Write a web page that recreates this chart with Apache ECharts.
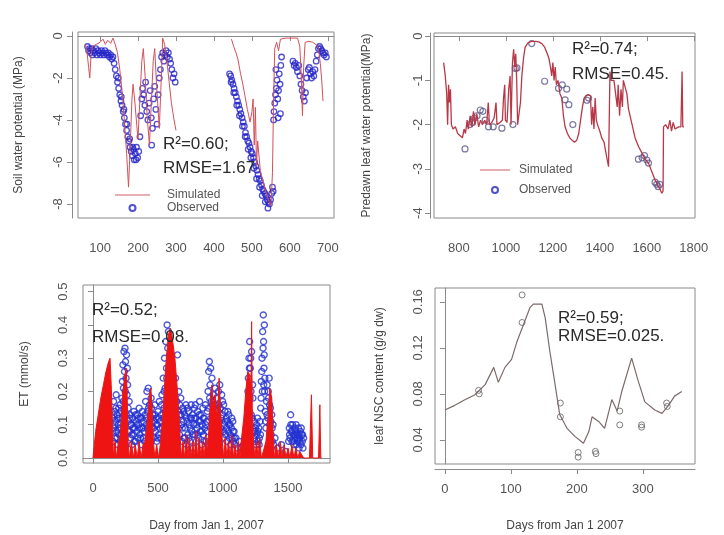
<!DOCTYPE html>
<html>
<head>
<meta charset="utf-8">
<script src="https://cdn.jsdelivr.net/npm/echarts@6/dist/echarts.min.js"></script>
<style>
  html, body { margin: 0; padding: 0; background: #fff; }
  #chart { width: 724px; height: 535px; }
</style>
</head>
<body>
<div id="chart"></div>
<script>
// panel 1: soil water potential (MPa), day
var soilSimA = [[62,-0.4],[66,-0.8],[70,-1.5],[73,-2.0],[76,-1.0],[80,-0.5],[90,-0.4],[100,-0.3],[108,-0.15],[114,-0.4],[120,-0.2],[128,-0.35],[134,-0.1],[140,-0.4],[146,-0.8],[152,-1.6],[158,-2.6],[164,-4.0],[170,-5.6],[175,-7.2],[180,-5.0],[184,-3.0],[187,-2.3],[192,-3.2],[197,-4.3],[200,-4.9],[205,-3.0],[210,-1.2],[214,-0.6],[219,-2.0],[224,-3.8],[230,-5.2],[235,-3.2],[240,-1.2],[244,-0.6],[249,-2.4],[256,-4.4],[260,-2.6],[265,-0.1],[270,-0.4],[276,-1.2],[282,-2.2],[288,-3.2],[294,-3.9],[300,-4.5]]
var soilSimB = [[446,-0.15],[452,-0.5],[458,-0.8],[463,-1.1],[470,-1.8],[476,-2.3],[481,-2.8],[488,-3.5],[495,-4.1],[500,-3.6],[503,-3.0],[506,-5.2],[509,-3.4],[512,-6.2],[515,-5.0],[522,-6.4],[530,-7.0],[538,-7.5],[545,-7.9],[550,-8.1],[554,-6.5],[557,-3.0],[560,-0.6],[565,-0.3],[570,-0.7],[575,-0.15],[590,-0.1],[605,-0.1],[620,-0.1],[626,-0.5],[630,-2.0],[633,-3.8],[636,-1.5],[640,-0.3],[650,-0.25],[660,-0.3],[668,-0.4],[675,-0.6],[680,-1.3],[684,-2.2],[687,-3.1]]
var soilObs = [[67,-0.5],[70,-0.7],[72,-0.6],[75,-0.8],[78,-0.6],[80,-0.9],[83,-0.7],[86,-0.8],[89,-0.6],[92,-0.9],[95,-0.7],[98,-0.8],[101,-0.9],[104,-0.7],[107,-0.8],[110,-0.9],[113,-0.7],[116,-0.8],[119,-0.9],[122,-0.8],[125,-1.0],[128,-0.9],[131,-1.1],[134,-1.0],[137,-1.3],[140,-1.6],[143,-1.9],[146,-2.2],[149,-2.5],[152,-2.8],[155,-3.1],[158,-3.3],[161,-3.6],[164,-3.9],[167,-4.2],[170,-4.5],[173,-4.8],[176,-5.0],[179,-5.3],[182,-5.5],[185,-5.7],[188,-5.4],[190,-5.9],[193,-5.6],[196,-5.3],[199,-5.8],[202,-5.5],[205,-4.8],[207,-3.8],[210,-3.0],[212,-2.5],[215,-2.8],[218,-3.3],[220,-2.2],[223,-3.6],[226,-4.0],[229,-3.2],[232,-2.6],[235,-3.9],[236,-5.2],[238,-4.4],[241,-3.0],[244,-2.4],[247,-3.5],[250,-4.2],[253,-2.8],[256,-2.0],[259,-1.6],[262,-1.0],[265,-0.8],[268,-1.2],[271,-0.9],[274,-0.7],[277,-1.0],[280,-0.8],[283,-1.1],[286,-1.3],[289,-1.6],[292,-2.0],[295,-1.8],[298,-2.2],
  [441,-1.8],[444,-1.9],[447,-2.1],[450,-2.3],[453,-2.5],[456,-2.7],[459,-2.9],[462,-3.1],[465,-3.3],[468,-3.5],[471,-3.7],[474,-3.9],[477,-4.1],[480,-4.3],[483,-4.6],[486,-4.8],[489,-5.0],[492,-5.1],[495,-5.3],[498,-5.5],[501,-5.6],[504,-5.8],[507,-6.0],[510,-6.2],[513,-6.4],[516,-6.6],[519,-6.8],[522,-6.9],[525,-7.1],[528,-7.3],[531,-7.4],[534,-7.5],[537,-7.6],[540,-7.8],[543,-7.9],[546,-8.0],[549,-7.8],[552,-7.5],[554,-7.2],[556,-7.4],[557,-4.0],[558,-3.6],[560,-3.2],[562,-2.8],[563,-1.6],[564,-2.5],[566,-2.1],[568,-3.0],[569,-3.9],[570,-2.6],[572,-1.8],[574,-2.3],[575,-3.7],[576,-1.4],[578,-1.0],[608,-1.2],[611,-1.4],[614,-1.3],[617,-1.5],[620,-1.7],[623,-1.4],[626,-1.9],[629,-2.3],[632,-2.6],[635,-2.9],[638,-3.1],[641,-2.7],[644,-2.0],[648,-1.6],[651,-1.5],[654,-1.8],[657,-2.0],[660,-1.7],[663,-1.9],[666,-1.6],[669,-1.2],[672,-0.9],[675,-0.6],[678,-0.5],[681,-0.6],[684,-0.7],[687,-0.8],[690,-0.9],[693,-0.8],[696,-1.0],
  [445,-2.2],[452,-2.7],[460,-3.3],[467,-3.8],[475,-4.3],[482,-4.8],[490,-5.4],[497,-5.8],[505,-6.3],[512,-6.8],[520,-7.2],[527,-7.6],[535,-7.9],[542,-8.2],[148,-2.0],[156,-2.9],[163,-3.5],[171,-4.2],[178,-4.9],[186,-5.3],[195,-5.9]]

// panel 2: predawn leaf water potential (MPa), day
var leafSim = [[735,-0.6],[742,-0.9],[748,-1.3],[752,-2.0],[756,-1.1],[760,-1.5],[764,-1.2],[768,-2.0],[775,-2.1],[785,-2.05],[795,-2.2],[805,-2.25],[815,-2.3],[822,-2.1],[828,-2.2],[835,-1.9],[840,-2.1],[848,-1.8],[855,-2.05],[862,-1.7],[868,-2.0],[876,-1.75],[884,-2.05],[892,-1.9],[900,-2.0],[910,-1.9],[918,-2.0],[925,-1.5],[930,-2.0],[940,-1.95],[950,-1.85],[958,-1.5],[962,-2.0],[975,-1.95],[985,-1.9],[990,-1.4],[995,-1.1],[998,-1.9],[1005,-1.95],[1012,-1.2],[1018,-0.9],[1022,-2.0],[1028,-0.6],[1033,-0.3],[1038,-0.7],[1042,-0.4],[1046,-1.0],[1050,-2.0],[1056,-2.0],[1062,-1.5],[1068,-0.9],[1075,-0.5],[1082,-0.25],[1095,-0.15],[1110,-0.12],[1125,-0.12],[1140,-0.13],[1153,-0.17],[1165,-0.25],[1175,-0.38],[1183,-0.5],[1190,-0.7],[1195,-0.9],[1200,-0.6],[1205,-1.0],[1210,-0.7],[1215,-1.1],[1222,-1.0],[1230,-1.3],[1238,-1.4],[1245,-1.8],[1252,-2.05],[1262,-2.2],[1272,-2.3],[1281,-2.35],[1292,-2.4],[1302,-2.35],[1310,-2.2],[1318,-1.9],[1326,-1.6],[1333,-1.4],[1340,-1.35],[1350,-1.32],[1360,-1.35],[1365,-2.0],[1370,-1.6],[1375,-2.1],[1380,-1.4],[1385,-1.9],[1390,-2.0],[1400,-2.15],[1408,-2.3],[1418,-2.4],[1428,-2.7],[1437,-2.95],[1443,-0.8],[1448,-1.0],[1460,-1.0],[1468,-1.0],[1474,-1.6],[1478,-1.1],[1484,-1.8],[1490,-1.2],[1496,-1.6],[1500,-1.0],[1508,-1.0],[1515,-1.3],[1522,-1.65],[1535,-1.95],[1550,-2.3],[1565,-2.5],[1580,-2.65],[1595,-2.8],[1607,-2.87],[1620,-3.05],[1635,-3.25],[1650,-3.4],[1664,-3.55],[1669,-3.5],[1671,-2.05],[1680,-2.0],[1690,-2.1],[1698,-1.9],[1705,-2.15],[1712,-1.95],[1720,-2.1],[1735,-2.05],[1745,-2.05],[1750,-0.8],[1753,-2.05],[1758,-2.05]]
var leafObs = [[826,-2.55],[847,-2.0],[858,-1.95],[866,-1.85],[877,-1.8],[891,-1.67],[902,-1.7],[912,-1.9],[926,-2.05],[946,-2.05],[983,-2.08],[1030,-2.0],[1040,-0.73],[1047,-0.72],[1110,-0.17],[1165,-1.02],[1224,-1.18],[1240,-1.1],[1252,-1.44],[1259,-1.2],[1268,-1.55],[1285,-2.0],[1345,-1.45],[1352,-1.4],[1564,-2.78],[1580,-2.75],[1590,-2.7],[1600,-2.8],[1607,-2.87],[1635,-3.3],[1642,-3.35],[1648,-3.4],[1655,-3.35]]

// panel 3: ET, day from Jan 1 2007
var etSim = [[0,0.0],[10,0.04],[20,0.08],[40,0.13],[60,0.18],[80,0.22],[100,0.26],[120,0.29],[131,0.30],[140,0.22],[150,0.10],[158,0.0],[170,0.05],[180,0.0],[192,0.04],[205,0.06],[215,0.10],[230,0.20],[245,0.25],[255,0.27],[262,0.20],[270,0.05],[280,0.0],[295,0.05],[310,0.0],[325,0.04],[340,0.0],[355,0.05],[370,0.0],[385,0.04],[400,0.05],[420,0.12],[435,0.19],[445,0.21],[455,0.15],[465,0.05],[475,0.0],[490,0.04],[505,0.0],[520,0.05],[540,0.15],[560,0.28],[580,0.37],[595,0.39],[610,0.36],[630,0.30],[650,0.20],[665,0.10],[680,0.0],[692,0.05],[705,0.0],[718,0.07],[730,0.0],[742,0.06],[755,0.0],[768,0.05],[780,0.0],[792,0.08],[805,0.0],[818,0.06],[830,0.0],[842,0.05],[855,0.0],[868,0.07],[880,0.02],[890,0.08],[905,0.18],[915,0.22],[925,0.15],[940,0.19],[955,0.10],[970,0.24],[980,0.15],[995,0.05],[1005,0.0],[1018,0.06],[1030,0.0],[1042,0.05],[1055,0.0],[1068,0.07],[1080,0.0],[1092,0.04],[1105,0.0],[1118,0.05],[1130,0.0],[1140,0.05],[1160,0.12],[1175,0.20],[1190,0.26],[1205,0.25],[1215,0.20],[1220,0.41],[1225,0.15],[1235,0.05],[1245,0.0],[1258,0.05],[1270,0.0],[1282,0.06],[1295,0.0],[1310,0.02],[1330,0.05],[1345,0.12],[1360,0.21],[1375,0.18],[1385,0.08],[1395,0.0],[1410,0.04],[1425,0.0],[1440,0.05],[1455,0.0],[1470,0.04],[1485,0.0],[1500,0.03],[1515,0.0],[1530,0.04],[1545,0.0],[1560,0.03],[1575,0.0],[1590,0.02],[1620,0.0],[1665,0.0],[1680,0.19],[1690,0.0],[1735,0.0],[1745,0.16],[1752,0.0],[1760,0.0]]
var etObs = [[150,0.12],[155,0.05],[158,0.17],[162,0.09],[166,0.14],[170,0.06],[174,0.11],[178,0.19],[182,0.08],[186,0.13],[190,0.04],[194,0.10],[198,0.15],[202,0.07],[206,0.12],[210,0.05],[214,0.09],[218,0.14],[222,0.18],[226,0.23],[230,0.28],[234,0.21],[238,0.32],[242,0.26],[246,0.33],[250,0.29],[254,0.24],[258,0.31],[262,0.19],[266,0.22],[270,0.15],[274,0.11],[278,0.17],[282,0.08],[286,0.13],[290,0.06],[295,0.10],[300,0.04],[305,0.12],[310,0.07],[315,0.14],[320,0.09],[325,0.05],[330,0.11],[335,0.08],[340,0.13],[345,0.06],[350,0.10],[355,0.15],[360,0.07],[365,0.12],[370,0.04],[375,0.09],[380,0.14],[385,0.06],[390,0.11],[395,0.08],[400,0.13],[405,0.17],[410,0.10],[415,0.20],[420,0.14],[425,0.21],[430,0.08],[435,0.16],[440,0.12],[445,0.05],[450,0.15],[455,0.09],[460,0.13],[465,0.06],[470,0.11],[475,0.16],[480,0.08],[485,0.12],[490,0.05],[495,0.10],[500,0.14],[505,0.07],[510,0.17],[515,0.11],[520,0.06],[525,0.13],[530,0.19],[535,0.09],[540,0.24],[545,0.15],[550,0.30],[555,0.21],[560,0.35],[565,0.27],[570,0.40],[575,0.33],[580,0.38],[585,0.25],[590,0.31],[595,0.18],[600,0.28],[605,0.12],[610,0.22],[615,0.16],[620,0.08],[625,0.19],[630,0.12],[635,0.24],[640,0.09],[645,0.17],[650,0.31],[655,0.14],[660,0.20],[665,0.07],[670,0.13],[675,0.18],[680,0.10],[685,0.05],[690,0.15],[695,0.11],[700,0.06],[705,0.13],[710,0.09],[715,0.16],[720,0.04],[725,0.11],[730,0.07],[735,0.14],[740,0.10],[745,0.05],[750,0.12],[755,0.16],[760,0.08],[765,0.13],[770,0.03],[775,0.10],[780,0.15],[785,0.07],[790,0.12],[795,0.05],[800,0.09],[805,0.14],[810,0.06],[815,0.11],[820,0.17],[825,0.08],[830,0.13],[835,0.04],[840,0.10],[845,0.15],[850,0.07],[855,0.12],[860,0.09],[865,0.16],[870,0.05],[875,0.11],[880,0.14],[885,0.20],[890,0.26],[895,0.29],[900,0.22],[905,0.27],[910,0.17],[915,0.24],[920,0.13],[925,0.19],[930,0.10],[935,0.16],[940,0.21],[945,0.12],[950,0.18],[955,0.08],[960,0.14],[965,0.20],[970,0.11],[975,0.22],[980,0.15],[985,0.09],[990,0.19],[995,0.13],[1000,0.06],[1005,0.16],[1010,0.10],[1015,0.14],[1020,0.07],[1025,0.12],[1030,0.05],[1035,0.11],[1040,0.08],[1045,0.13],[1050,0.06],[1055,0.10],[1060,0.04],[1065,0.09],[1070,0.06],[1075,0.11],[1080,0.05],[1085,0.08],[1090,0.04],[1100,0.06],[1110,0.03],[1125,0.05],[1140,0.03],[1160,0.04],[1185,0.08],[1190,0.15],[1195,0.24],[1200,0.30],[1205,0.35],[1210,0.27],[1215,0.20],[1220,0.32],[1225,0.12],[1230,0.18],[1235,0.08],[1240,0.11],[1245,0.05],[1250,0.09],[1255,0.04],[1260,0.07],[1265,0.12],[1270,0.05],[1275,0.09],[1280,0.06],[1285,0.11],[1290,0.15],[1295,0.23],[1300,0.30],[1305,0.38],[1310,0.43],[1312,0.35],[1315,0.27],[1318,0.40],[1320,0.20],[1325,0.14],[1330,0.09],[1335,0.17],[1340,0.22],[1345,0.12],[1350,0.18],[1355,0.24],[1360,0.10],[1365,0.15],[1370,0.07],[1375,0.13],[1380,0.05],[1385,0.10],[1390,0.04],[1400,0.06],[1420,0.03],[1450,0.04],[1480,0.02],[1505,0.05],[1510,0.09],[1515,0.06],[1520,0.13],[1525,0.08],[1530,0.05],[1535,0.10],[1540,0.07],[1545,0.04],[1550,0.09],[1555,0.06],[1560,0.08],[1565,0.04],[1570,0.07],[1575,0.05],[1580,0.09],[1585,0.03],[1590,0.06],[1595,0.08],[1600,0.04],[1605,0.07],[1610,0.05],[1615,0.03],[1620,0.06],
  [152,0.08],[160,0.13],[168,0.10],[176,0.15],[184,0.06],[192,0.12],[200,0.09],[208,0.16],[216,0.07],[224,0.12],[232,0.17],[240,0.14],[248,0.20],[256,0.13],[264,0.27],[272,0.08],[280,0.12],[288,0.10],[297,0.07],[307,0.09],[317,0.05],[327,0.13],[337,0.10],[347,0.12],[357,0.09],[367,0.06],[377,0.12],[387,0.09],[397,0.05],[407,0.12],[417,0.09],[427,0.15],[437,0.10],[447,0.18],[457,0.12],[467,0.09],[477,0.13],[487,0.10],[497,0.06],[507,0.12],[517,0.09],[527,0.16],[537,0.12],[547,0.20],[557,0.14],[567,0.24],[577,0.18],[587,0.14],[597,0.22],[607,0.18],[617,0.13],[627,0.15],[637,0.07],[647,0.12],[657,0.09],[667,0.16],[677,0.13],[687,0.09],[697,0.14],[707,0.06],[717,0.12],[727,0.15],[737,0.06],[747,0.09],[757,0.12],[767,0.07],[777,0.12],[787,0.16],[797,0.10],[807,0.07],[817,0.13],[827,0.11],[837,0.08],[847,0.12],[857,0.05],[867,0.10],[877,0.08],[887,0.15],[897,0.18],[907,0.12],[917,0.16],[927,0.09],[937,0.13],[947,0.15],[957,0.11],[967,0.16],[977,0.08],[987,0.12],[997,0.17],[1007,0.08],[1017,0.11],[1027,0.09],[1037,0.14],[1047,0.10],[1057,0.07],[1067,0.12],[1077,0.08],[1087,0.06],[1192,0.20],[1198,0.11],[1203,0.27],[1208,0.18],[1213,0.30],[1218,0.13],[1228,0.22],[1238,0.06],[1248,0.08],[1258,0.10],[1268,0.08],[1278,0.04],[1288,0.07],[1293,0.18],[1298,0.26],[1303,0.20],[1308,0.33],[1313,0.22],[1317,0.31],[1322,0.24],[1328,0.11],[1338,0.13],[1348,0.20],[1358,0.16],[1368,0.11],[1378,0.09],[1512,0.07],[1522,0.10],[1532,0.08],[1542,0.05],[1552,0.07],[1562,0.10],[1572,0.06],[1582,0.07],[1592,0.05],[1602,0.09],[1612,0.07]]

// panel 4: leaf NSC content (g/g dw), days from Jan 1 2007
var nscSim = [[0,0.066],[15,0.070],[31,0.075],[45,0.079],[61,0.088],[74,0.103],[81,0.090],[91,0.103],[101,0.110],[109,0.125],[119,0.140],[129,0.155],[134,0.158],[147,0.158],[152,0.146],[159,0.117],[167,0.088],[174,0.062],[185,0.050],[197,0.043],[210,0.037],[218,0.047],[223,0.060],[233,0.056],[242,0.050],[253,0.075],[261,0.065],[268,0.082],[283,0.111],[293,0.091],[303,0.073],[318,0.066],[329,0.063],[339,0.070],[348,0.078],[359,0.082]]
var nscObs = [[117,0.166],[117,0.142],[51,0.083],[52,0.080],[175,0.072],[175,0.060],[202,0.029],[202,0.025],[228,0.030],[229,0.028],[265,0.065],[265,0.053],[298,0.053],[298,0.051],[336,0.072],[337,0.069]]

// tick labels
var p1XTicks = [100, 200, 300, 400, 500, 600, 700]
var p1YTicks = [0, -2, -4, -6, -8]
var p2XTicks = [800, 1000, 1200, 1400, 1600, 1800]
var p2YTicks = [0, -1, -2, -3, -4]
var p3XTicks = [0, 500, 1000, 1500]
var p3YTicks = [0, 0.1, 0.2, 0.3, 0.4, 0.5]
var p4XTicks = [0, 100, 200, 300]
var p4YTicks = [0.04, 0.08, 0.12, 0.16]

var FONT = 'Liberation Sans, Arial, sans-serif'
var AXIS_GREY = '#8a8a8a'
var LINE_ICON = 'path://M0,0H35V1.2H0Z'

function xAxisOf (grid, min, max, ticks, offset, name, gap) {
  return {
    type: 'value', gridIndex: grid, min: min, max: max, offset: offset,
    name: name || '', nameLocation: 'middle', nameGap: gap || 40,
    nameTextStyle: { color: '#444', fontSize: 12, fontFamily: FONT },
    axisLine: { show: true, lineStyle: { color: AXIS_GREY } },
    axisTick: { show: true, length: 5, customValues: ticks, lineStyle: { color: AXIS_GREY } },
    axisLabel: {
      customValues: ticks, color: '#555', fontSize: 13, margin: 14, fontFamily: FONT,
      formatter: function (v) { return String(v) }
    },
    splitLine: { show: false }
  }
}

function yAxisOf (grid, min, max, ticks, offset, name, gap, digits, margin) {
  return {
    type: 'value', gridIndex: grid, min: min, max: max, offset: offset,
    name: name, nameLocation: 'middle', nameGap: gap,
    nameTextStyle: { color: '#444', fontSize: 12, fontFamily: FONT },
    axisLine: { show: true, lineStyle: { color: AXIS_GREY } },
    axisTick: { show: true, length: 5, customValues: ticks, lineStyle: { color: AXIS_GREY } },
    axisLabel: {
      customValues: ticks, color: '#555', fontSize: 13, margin: margin, rotate: 90, fontFamily: FONT,
      formatter: function (v) { return digits ? v.toFixed(digits) : String(v) }
    },
    splitLine: { show: false }
  }
}

function note (left, top, text) {
  return { type: 'text', left: left, top: top, z: 100,
    style: { text: text, fill: '#2a2a2a', font: '17px ' + FONT } }
}

var gridBox = { show: true, borderColor: '#8a8a8a', borderWidth: 1, backgroundColor: 'transparent' }

var chart = echarts.init(document.getElementById('chart'))

chart.setOption({
  animation: false,
  backgroundColor: '#fff',
  grid: [
    Object.assign({ left: 78, top: 32, width: 256, height: 186 }, gridBox),
    Object.assign({ left: 434, top: 33, width: 261, height: 185 }, gridBox),
    Object.assign({ left: 83, top: 285, width: 247, height: 178 }, gridBox),
    Object.assign({ left: 435, top: 288, width: 260, height: 176 }, gridBox)
  ],
  xAxis: [
    xAxisOf(0, 42, 716, p1XTicks, 10),
    xAxisOf(1, 694, 1805, p2XTicks, 10),
    xAxisOf(2, -77, 1823, p3XTicks, 5, 'Day from Jan 1, 2007', 52),
    xAxisOf(3, -15, 379, p4XTicks, 5, 'Days from Jan 1 2007', 51)
  ],
  yAxis: [
    yAxisOf(0, -8.67, 0.19, p1YTicks, 6, 'Soil water potential (MPa)', 47, 0, 7),
    yAxisOf(1, -4.11, 0.07, p2YTicks, 4, 'Predawn leaf water potential(MPa)', 57, 0, 5),
    yAxisOf(2, -0.015, 0.52, p3YTicks, 2, 'ET (mmol/s)', 50, 1, 11),
    yAxisOf(3, 0.019, 0.172, p4YTicks, 1, 'leaf NSC content (g/g dw)', 48, 2, 9)
  ],
  legend: [
    {
      orient: 'vertical', left: 110, top: 184, itemGap: 1, itemWidth: 35, itemHeight: 6,
      selectedMode: false,
      data: [{ name: 'Simulated', icon: LINE_ICON }, { name: 'Observed', icon: 'circle' }],
      textStyle: { color: '#555', fontSize: 12, fontFamily: FONT, padding: [0, 0, 0, 12] }
    },
    {
      orient: 'vertical', left: 475, top: 159, itemGap: 8, itemWidth: 30, itemHeight: 6,
      selectedMode: false,
      data: [{ name: 'Simulated', icon: LINE_ICON }, { name: 'Observed', icon: 'circle' }],
      textStyle: { color: '#555', fontSize: 12, fontFamily: FONT, padding: [0, 0, 0, 4] }
    }
  ],
  graphic: [
    note(163, 136, 'R²=0.60;'),
    note(163, 160, 'RMSE=1.67'),
    note(572, 41, 'R²=0.74;'),
    note(572, 66, 'RMSE=0.45.'),
    note(92, 302, 'R²=0.52;'),
    note(92, 329, 'RMSE=0.08.'),
    note(558, 310, 'R²=0.59;'),
    note(558, 328, 'RMSE=0.025.')
  ],
  series: [
    {
      name: 'Observed', type: 'scatter', xAxisIndex: 0, yAxisIndex: 0, data: soilObs,
      symbol: 'circle', symbolSize: 5.5,
      itemStyle: { color: 'transparent', borderColor: '#2424c8', borderWidth: 1.3 }
    },
    {
      name: 'Simulated', type: 'line', xAxisIndex: 0, yAxisIndex: 0, data: soilSimA,
      symbol: 'none', itemStyle: { color: '#d06068' }, lineStyle: { color: '#d4505a', width: 1 }
    },
    {
      name: 'Simulated', type: 'line', xAxisIndex: 0, yAxisIndex: 0, data: soilSimB,
      symbol: 'none', itemStyle: { color: '#d06068' }, lineStyle: { color: '#d4505a', width: 1 }
    },
    {
      name: 'Simulated', type: 'line', xAxisIndex: 1, yAxisIndex: 1, data: leafSim,
      symbol: 'none', itemStyle: { color: '#c04050' }, lineStyle: { color: '#b83848', width: 1.3 }
    },
    {
      name: 'Observed', type: 'scatter', xAxisIndex: 1, yAxisIndex: 1, data: leafObs,
      symbol: 'circle', symbolSize: 6,
      itemStyle: { color: 'transparent', borderColor: '#5a5a8c', borderWidth: 1.2 }
    },
    {
      name: 'ET observed', type: 'scatter', xAxisIndex: 2, yAxisIndex: 2, data: etObs,
      symbol: 'circle', symbolSize: 6,
      itemStyle: { color: 'transparent', borderColor: '#2030d0', borderWidth: 1.4 }
    },
    {
      name: 'ET simulated', type: 'line', xAxisIndex: 2, yAxisIndex: 2, data: etSim, z: 3,
      symbol: 'none', lineStyle: { color: '#ee1414', width: 1 },
      areaStyle: { color: '#ee1414', opacity: 1 }
    },
    {
      name: 'NSC simulated', type: 'line', xAxisIndex: 3, yAxisIndex: 3, data: nscSim,
      symbol: 'none', lineStyle: { color: '#7d6a6a', width: 1.2 }
    },
    {
      name: 'NSC observed', type: 'scatter', xAxisIndex: 3, yAxisIndex: 3, data: nscObs,
      symbol: 'circle', symbolSize: 6,
      itemStyle: { color: 'transparent', borderColor: '#606060', borderWidth: 1 }
    }
  ]
})
</script>
</body>
</html>
